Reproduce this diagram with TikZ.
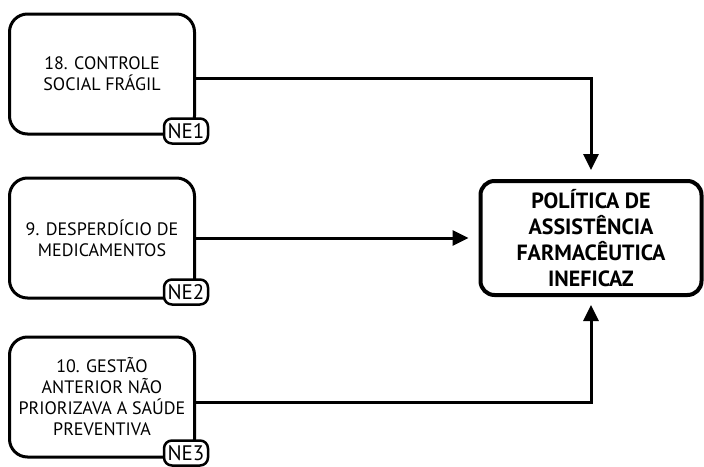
\documentclass[tikz,border=0pt]{standalone}
\usepackage{fontspec}
\setmainfont{PT Sans}
\usetikzlibrary{arrows.meta}
\tikzset{>={Triangle[width=15pt,length=16pt]}}
\tikzset{
  causa/.style={draw, line width=3pt, rounded corners=18pt, minimum width=185pt,
    minimum height=120pt, align=center, inner sep=2pt,
    font=\fontsize{18}{21}\selectfont},
  etiqueta/.style={draw, fill=white, line width=2.5pt, rounded corners=8pt,
    minimum width=44pt, minimum height=25pt, inner sep=0pt,
    font=\fontsize{21}{21}\selectfont},
  problema/.style={draw, line width=4pt, rounded corners=14pt, minimum width=221pt,
    minimum height=114pt, align=center,
    font=\bfseries\fontsize{22}{26}\selectfont},
  ligacao/.style={line width=3pt}
}

\begin{document}
\begin{tikzpicture}[x=1pt, y=-1pt]
  \useasboundingbox (0,0) rectangle (704,466);

  % causas
  \node[causa] (c18) at (102,74) {18. CONTROLE\\SOCIAL FRÁGIL};
  \node[causa] (c9) at (102,238) {9. DESPERDÍCIO DE\\MEDICAMENTOS};
  \node[causa] (c10) at (102,397) {10. GESTÃO\\ANTERIOR NÃO\\PRIORIZAVA A SAÚDE\\PREVENTIVA};

  \node[etiqueta] (ne1) at (186,131) {NE1};
  \node[etiqueta] (ne2) at (186,292) {NE2};
  \node[etiqueta] (ne3) at (186,453) {NE3};

  % problema central
  \node[problema] (pol) at (591,238) {POLÍTICA DE\\ASSISTÊNCIA\\FARMACÊUTICA\\INEFICAZ};

  \draw[ligacao, ->, shorten >=9pt] ([yshift=-4pt]c18.east) -| (pol.north);
  \draw[ligacao, ->, shorten >=10pt] (c9.east) -- (pol.west);
  \draw[ligacao, ->, shorten >=8pt] ([yshift=-5pt]c10.east) -| (pol.south);
\end{tikzpicture}
\end{document}
